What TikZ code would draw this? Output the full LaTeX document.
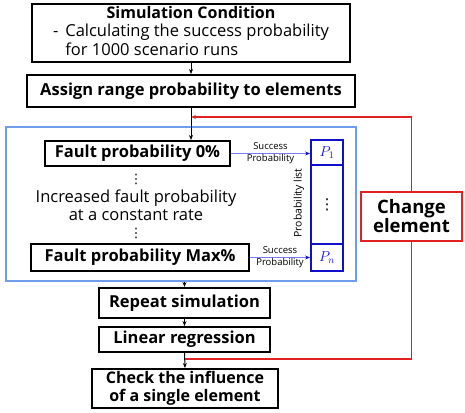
\documentclass[tikz,border=0pt]{standalone}
\usepackage{fontspec}
\setmainfont{Open Sans}
\newfontfamily\dejavu{DejaVu Sans}
\usetikzlibrary{arrows.meta,positioning}
\definecolor{lblue}{HTML}{6F9CEB}
\definecolor{dblue}{HTML}{1010CC}
\definecolor{myred}{HTML}{E02222}
\definecolor{arrblue}{HTML}{7C7CF0}
\tikzset{
  blackbox/.style={draw=black, line width=2pt, inner sep=0pt, font=\fontsize{16.5}{18.5}\selectfont\bfseries},
  cell/.style={draw=dblue, line width=2pt, inner sep=0pt, minimum width=32pt, text=dblue, font=\fontsize{14}{14}\selectfont},
  conn/.style={-{Stealth[length=5pt,width=4pt]}, line width=1pt},
  sp/.style={font=\fontsize{9.5}{11}\selectfont, align=center, inner sep=0pt},
  dotsn/.style={inner sep=0pt, font=\dejavu\fontsize{13}{13}\selectfont},
}
\begin{document}
\begin{tikzpicture}[x=1pt,y=-1pt]
\useasboundingbox (0,0) rectangle (465,412);
% top boxes
\node[blackbox, minimum width=318pt, minimum height=58pt] (sim) at (191,33)
  {\begin{tabular}{@{}l@{}}\multicolumn{1}{c}{\fontsize{16}{18.5}\selectfont\bfseries Simulation Condition}\\
   \mdseries -\hspace{7pt}Calculating the success probability\\
   \mdseries \phantom{-}\hspace{7pt}for 1000 scenario runs\end{tabular}};
\node[blackbox, minimum width=328pt, minimum height=32pt] (assign) at (191,91) {Assign range probability to elements};
% group
\node[draw=lblue, line width=2pt, minimum width=350pt, minimum height=154pt, inner sep=0pt] (grp) at (181,204) {};
\node[blackbox, minimum width=185pt, minimum height=25pt] (f0) at (137.5,153.5) {Fault probability 0\%};
\node[blackbox, minimum width=218pt, minimum height=27pt] (fmax) at (140,257.5) {Fault probability Max\%};
\node[dotsn] (d1) at (136,179) {⋮};
\node[align=center, inner sep=0pt, font=\fontsize{16.5}{18}\selectfont] (inc) at (136,205) {Increased fault probability\\at a constant rate};
\node[dotsn] (d2) at (136,233) {⋮};
% probability list
\node[cell, minimum height=25pt] (p1) at (327,152.5) {$P_1$};
\node[cell, minimum height=79pt] (pm) at (327,204.5) {};
\node[dotsn, font=\dejavu\fontsize{15}{15}\selectfont] (pdots) at (pm.center) {⋮};
\node[cell, minimum height=27pt] (pn) at (327,257.5) {$P_n$};
\node[rotate=90, font=\fontsize{10.5}{11}\selectfont, inner sep=0pt] (plabel) at (299,203) {Probability list};
\draw[conn, draw=arrblue, -{Stealth[length=5pt,width=4pt,color=dblue]}] (f0.east) -- (f0.east -| p1.west)
  node[sp, midway] (sp1) {Success\\[1pt]Probability};
\draw[conn, draw=arrblue, -{Stealth[length=5pt,width=4pt,color=dblue]}] (fmax.east) -- (fmax.east -| pn.west)
  node[sp, midway] (sp2) {Success\\[1pt]Probability};
% lower boxes
\node[blackbox, minimum width=171pt, minimum height=30pt] (rep) at (184.5,303) {Repeat simulation};
\node[blackbox, minimum width=171pt, minimum height=25pt] (lin) at (184.5,339.5) {Linear regression};
\node[blackbox, minimum width=186pt, minimum height=39pt, align=center, font=\fontsize{16}{18}\selectfont\bfseries] (chk) at (185,388.5) {Check the influence\\of a single element};
% change element
\node[draw=myred, line width=2pt, minimum width=101pt, minimum height=49pt, inner sep=0pt, align=center, font=\fontsize{18.5}{19}\selectfont\bfseries] (chg) at (411.5,216.5) {Change\\element};
% connectors
\coordinate (j1) at (191,117);
\coordinate (j2) at (184.5,359);
\draw[conn] (sim.south) -- (assign.north);
\draw[conn] (assign.south) -- (assign.south |- f0.north);
\draw[conn] (rep.north |- grp.south) -- (rep.north);
\draw[conn] (rep.south) -- (lin.north);
\draw[conn] (lin.south) -- (chk.north);
\draw[color=myred, line width=1.2pt, -{Stealth[length=5pt,width=4pt]}] (chg.north) |- (j1);
\draw[color=myred, line width=1.2pt] (chg.south) |- (j2);
\end{tikzpicture}
\end{document}
